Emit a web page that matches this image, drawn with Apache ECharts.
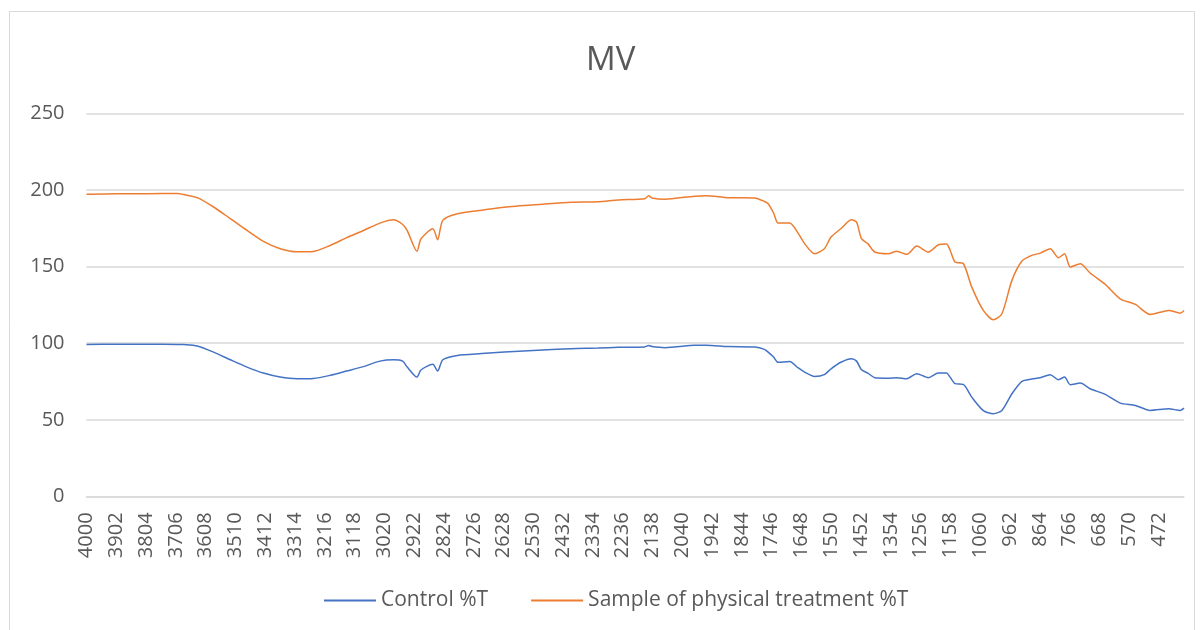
<!DOCTYPE html>
<html>
<head>
<meta charset="utf-8">
<script src="https://cdn.jsdelivr.net/npm/echarts@6/dist/echarts.min.js"></script>
<style>
html,body{margin:0;padding:0;background:#fff;}
#chart{width:1200px;height:630px;}
</style>
</head>
<body>
<div id="chart"></div>
<script>
const wavenumbers = [4000, 3900, 3800, 3700, 3680, 3636, 3582, 3527, 3472, 3418, 3363, 3308, 3254, 3199, 3144, 3089, 3035, 2990, 2960, 2945, 2913, 2900, 2861, 2845, 2828, 2780, 2700, 2625, 2500, 2406, 2318, 2250, 2164, 2151, 2140, 2098, 2000, 1961, 1890, 1802, 1770, 1758, 1740, 1725, 1687, 1660, 1638, 1605, 1573, 1551, 1517, 1484, 1467, 1451, 1430, 1407, 1363, 1335, 1302, 1269, 1231, 1198, 1171, 1160, 1143, 1116, 1088, 1050, 1017, 989, 956, 923, 891, 863, 830, 803, 783, 764, 731, 699, 649, 600, 550, 501, 440, 402, 390];

const controlT = [99.2, 99.3, 99.3, 99.2, 99.1, 98.2, 94.2, 89.2, 84.4, 80.5, 77.9, 76.8, 77.0, 79.0, 81.8, 84.7, 88.3, 89.2, 88.3, 84.4, 77.9, 82.5, 86.2, 81.8, 89.2, 92, 93.2, 94.2, 95.5, 96.4, 96.8, 97.3, 97.6, 98.5, 97.8, 97.1, 98.6, 98.7, 97.8, 97.5, 96, 94.2, 91, 87.5, 88.1, 84, 81.1, 78.3, 79.5, 83.3, 87.7, 89.9, 88.3, 82.7, 80.5, 77.5, 77.2, 77.5, 76.8, 80.1, 77.5, 80.5, 80.5, 78, 73.6, 73.1, 64.8, 56, 54, 56.1, 67, 75.1, 76.6, 77.5, 79.4, 76.2, 77.9, 72.9, 74, 70.3, 66.6, 60.9, 59.4, 56.1, 57.2, 56.1, 57.6];

const sampleT = [197.2, 197.6, 197.6, 197.7, 197.0, 195.0, 188.9, 181.3, 173.6, 166.5, 161.7, 159.7, 159.9, 163.8, 168.9, 173.6, 178.4, 180.6, 177.5, 173.5, 160, 168, 174.7, 167.5, 180.2, 184.5, 186.8, 188.8, 190.7, 192, 192.3, 193.5, 194.3, 196.2, 194.8, 194, 196, 196.3, 195, 194.8, 192.5, 191, 185, 178.4, 178.4, 172, 165, 158.4, 161.7, 169.3, 175, 180.6, 179, 168.2, 165, 159.5, 158.4, 160, 158, 163.4, 159.5, 164.3, 164.8, 161, 153, 152, 136.6, 121.4, 115.3, 119.2, 141, 153.6, 157.3, 158.8, 161.7, 155.8, 158.4, 149.7, 151.9, 145.8, 138.4, 129, 125.3, 118.8, 121.4, 119.6, 121.4];

const xTickLabels = [4000, 3902, 3804, 3706, 3608, 3510, 3412, 3314, 3216, 3118, 3020, 2922, 2824, 2726, 2628, 2530, 2432, 2334, 2236, 2138, 2040, 1942, 1844, 1746, 1648, 1550, 1452, 1354, 1256, 1158, 1060, 962, 864, 766, 668, 570, 472];

const seriesNames = ['Control %T', 'Sample of physical treatment %T'];
const chartTitle = 'MV';

const pair = arr => wavenumbers.map((w, i) => [w, arr[i]]);
const FONT = '"Open Sans", "Noto Sans", sans-serif';
const TXT = '#595959';

const chart = echarts.init(document.getElementById('chart'), null, {renderer: 'canvas'});
chart.setOption({
  backgroundColor: '#ffffff',
  animation: false,
  title: {
    text: chartTitle,
    left: 586,
    top: 44,
    padding: 0,
    textStyle: {fontFamily: FONT, fontSize: 33, fontWeight: 'normal', color: TXT}
  },
  legend: {
    top: 590,
    left: 324,
    padding: 0,
    itemWidth: 52,
    itemHeight: 2,
    itemGap: 43,
    icon: 'rect',
    textStyle: {fontFamily: FONT, fontSize: 21, color: TXT, padding: [0, 0, 0, 0]},
    data: seriesNames
  },
  grid: {
    left: 86.5,
    right: 16,
    top: 113.4,
    bottom: 133.6,
    outerBoundsMode: 'none',
    containLabel: false
  },
  xAxis: {
    type: 'value',
    inverse: true,
    min: 390,
    max: 4000,
    axisLine: {show: true, lineStyle: {color: '#D9D9D9', width: 1.5}},
    axisTick: {show: false},
    splitLine: {show: false},
    axisLabel: {
      customValues: xTickLabels,
      rotate: 90,
      margin: 16,
      fontFamily: FONT,
      fontSize: 20,
      color: TXT,
      formatter: v => String(v)
    }
  },
  yAxis: {
    type: 'value',
    min: 0,
    max: 250,
    interval: 50,
    axisLine: {show: false},
    axisTick: {show: false},
    splitLine: {lineStyle: {color: '#D9D9D9', width: 1.5}},
    axisLabel: {margin: 22, fontFamily: FONT, fontSize: 20, color: TXT}
  },
  series: [
    {
      name: seriesNames[0],
      type: 'line',
      data: pair(controlT),
      showSymbol: false,
      smooth: 0.25,
      lineStyle: {color: '#4472C4', width: 1.5},
      itemStyle: {color: '#4472C4'}
    },
    {
      name: seriesNames[1],
      type: 'line',
      data: pair(sampleT),
      showSymbol: false,
      smooth: 0.25,
      lineStyle: {color: '#ED7D31', width: 1.5},
      itemStyle: {color: '#ED7D31'}
    }
  ],
  graphic: [{
    type: 'rect',
    shape: {x: 9.5, y: 11.5, width: 1185, height: 640},
    style: {fill: null, stroke: '#D9D9D9', lineWidth: 1},
    silent: true,
    z: -1
  }]
});
</script>
</body>
</html>
